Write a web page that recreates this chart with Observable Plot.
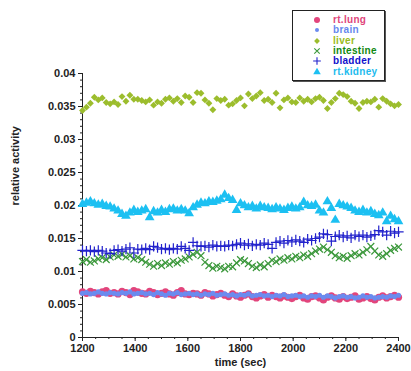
<!DOCTYPE html>
<html>
<head>
<meta charset="utf-8">
<script src="https://cdn.jsdelivr.net/npm/d3@7"></script>
<script src="https://cdn.jsdelivr.net/npm/@observablehq/plot@0.6"></script>
<style>
  html, body { margin: 0; padding: 0; background: #fff; }
  #wrap { position: relative; width: 411px; height: 371px; font-family: "Liberation Sans", Arial, sans-serif; }
  #legend { position: absolute; left: 292px; top: 10px; width: 93px; height: 71px; background: #fff;
            border: 1px solid #222; box-shadow: 1px 1px 0 #555; box-sizing: border-box; }
  .row { position: absolute; left: 0; height: 10px; font-size: 10px; font-weight: bold; line-height: 10px; }
  .row svg { position: absolute; left: 18px; top: -1px; }
  .row span { position: absolute; left: 40px; top: 0; white-space: nowrap; letter-spacing: 0.3px; }
</style>
</head>
<body>
<div id="wrap"><div id="chart"></div><div id="legend"></div></div>
<script>
// sampling grid (sec)
const times = d3.range(1200, 2401, 15);
const xTicks = [1200, 1400, 1600, 1800, 2000, 2200, 2400];
const yTicks = [0, 0.005, 0.01, 0.015, 0.02, 0.025, 0.03, 0.035, 0.04];

const seriesNames = ["rt.lung", "brain", "liver", "intestine", "bladder", "rt.kidney"];

const lung = [
0.0069,0.0067,0.0070,0.0068,0.0066,0.0069,0.0071,0.0067,0.0068,0.0066,
0.0070,0.0068,0.0065,0.0071,0.0069,0.0067,0.0066,0.0070,0.0068,0.0065,
0.0067,0.0069,0.0066,0.0064,0.0068,0.0071,0.0066,0.0065,0.0067,0.0066,
0.0064,0.0068,0.0066,0.0063,0.0065,0.0067,0.0064,0.0062,0.0066,0.0063,
0.0061,0.0064,0.0066,0.0062,0.0060,0.0063,0.0065,0.0061,0.0064,0.0062,
0.0060,0.0063,0.0061,0.0059,0.0062,0.0064,0.0060,0.0058,0.0062,0.0063,
0.0060,0.0057,0.0061,0.0063,0.0060,0.0058,0.0062,0.0059,0.0061,0.0063,
0.0058,0.0060,0.0062,0.0059,0.0057,0.0061,0.0063,0.0060,0.0062,0.0064,0.0061];

const brain = [
0.0067,0.0068,0.0066,0.0067,0.0069,0.0067,0.0066,0.0068,0.0067,0.0066,
0.0068,0.0067,0.0069,0.0066,0.0067,0.0068,0.0066,0.0067,0.0065,0.0068,
0.0066,0.0064,0.0067,0.0066,0.0068,0.0065,0.0066,0.0067,0.0065,0.0066,
0.0064,0.0066,0.0065,0.0067,0.0064,0.0065,0.0066,0.0064,0.0065,0.0063,
0.0065,0.0064,0.0066,0.0063,0.0064,0.0065,0.0063,0.0064,0.0062,0.0064,
0.0063,0.0065,0.0062,0.0063,0.0064,0.0062,0.0063,0.0061,0.0063,0.0062,
0.0064,0.0061,0.0063,0.0062,0.0060,0.0062,0.0063,0.0061,0.0062,0.0060,
0.0061,0.0063,0.0061,0.0062,0.0060,0.0061,0.0062,0.0061,0.0063,0.0062,0.0064];

const liver = [
0.0344,0.0349,0.0355,0.0364,0.0360,0.0363,0.0356,0.0354,0.0357,0.0353,
0.0365,0.0358,0.0367,0.0361,0.0361,0.0359,0.0357,0.0360,0.0352,0.0357,
0.0355,0.0361,0.0363,0.0358,0.0362,0.0356,0.0366,0.0364,0.0356,0.0371,
0.0370,0.0360,0.0355,0.0345,0.0362,0.0359,0.0361,0.0352,0.0354,0.0359,
0.0363,0.0351,0.0369,0.0362,0.0366,0.0371,0.0359,0.0361,0.0356,0.0370,
0.0348,0.0360,0.0363,0.0357,0.0356,0.0363,0.0358,0.0361,0.0357,0.0362,
0.0364,0.0359,0.0347,0.0356,0.0362,0.0370,0.0368,0.0365,0.0358,0.0355,
0.0347,0.0356,0.0358,0.0357,0.0361,0.0349,0.0362,0.0358,0.0354,0.0351,0.0353];

const intestine = [
0.0115,0.0118,0.0114,0.0116,0.0119,0.0121,0.0118,0.0122,0.0125,0.0123,
0.0126,0.0122,0.0124,0.0119,0.0121,0.0118,0.0114,0.0111,0.0108,0.0112,
0.0109,0.0113,0.0111,0.0115,0.0113,0.0117,0.0119,0.0122,0.0126,0.0129,
0.0124,0.0114,0.0109,0.0105,0.0108,0.0106,0.0104,0.0108,0.0107,0.0113,
0.0118,0.0116,0.0112,0.0108,0.0106,0.0110,0.0107,0.0112,0.0117,0.0115,
0.0119,0.0117,0.0121,0.0119,0.0123,0.0121,0.0125,0.0123,0.0127,0.0131,
0.0134,0.0137,0.0133,0.0129,0.0124,0.0121,0.0123,0.0120,0.0124,0.0127,
0.0125,0.0129,0.0133,0.0138,0.0131,0.0125,0.0123,0.0127,0.0132,0.0135,0.0137];

const bladder = [
0.0132,0.0131,0.0132,0.0130,0.0132,0.0131,0.0128,0.0127,0.0132,0.0133,
0.0131,0.0134,0.0136,0.0128,0.0134,0.0133,0.0135,0.0133,0.0138,0.0136,
0.0134,0.0135,0.0133,0.0135,0.0134,0.0138,0.0135,0.0132,0.0144,0.0139,
0.0138,0.0139,0.0137,0.0140,0.0138,0.0139,0.0138,0.0140,0.0139,0.0141,
0.0143,0.0140,0.0142,0.0139,0.0141,0.0140,0.0143,0.0141,0.0135,0.0144,
0.0146,0.0143,0.0147,0.0145,0.0148,0.0146,0.0144,0.0149,0.0147,0.0150,
0.0152,0.0157,0.0156,0.0146,0.0153,0.0155,0.0152,0.0154,0.0151,0.0155,
0.0153,0.0155,0.0152,0.0154,0.0156,0.0162,0.0160,0.0155,0.0161,0.0158,0.0160];

const kidney = [
0.0202,0.0204,0.0206,0.0203,0.0201,0.0202,0.0199,0.0198,0.0195,0.0192,
0.0187,0.0184,0.0189,0.0193,0.0190,0.0192,0.0194,0.0182,0.0191,0.0189,
0.0193,0.0190,0.0194,0.0195,0.0192,0.0194,0.0192,0.0188,0.0197,0.0201,
0.0204,0.0203,0.0206,0.0205,0.0207,0.0209,0.0216,0.0211,0.0208,0.0193,
0.0203,0.0200,0.0197,0.0199,0.0195,0.0199,0.0197,0.0196,0.0194,0.0197,
0.0195,0.0193,0.0196,0.0198,0.0195,0.0197,0.0205,0.0200,0.0199,0.0201,
0.0192,0.0189,0.0206,0.0196,0.0178,0.0202,0.0200,0.0198,0.0196,0.0192,
0.0190,0.0193,0.0189,0.0191,0.0187,0.0185,0.0189,0.0176,0.0184,0.0179,0.0176];

const styles = {
  "rt.lung":   {symbol: "circle",   r: 3.6, lr: 3.0, fill: "#e2457c", text: "#e0457b"},
  "brain":     {symbol: "circle",   r: 2.6, lr: 2.0, fill: "#6b8bef", text: "#6688ee"},
  "liver":     {symbol: "diamond2", r: 3.1, lr: 2.6, fill: "#9cbd2d", text: "#99bb22"},
  "intestine": {symbol: "times",    r: 3.2, lr: 2.6, stroke: "#3b983b", text: "#118811"},
  "bladder":   {symbol: "plus",     r: 3.4, lr: 2.6, stroke: "#2222cc", text: "#1111cc"},
  "rt.kidney": {symbol: "triangle", r: 3.6, lr: 2.8, fill: "#1cc0f2", text: "#22bbee"}
};
const valuesByName = {"rt.lung": lung, "brain": brain, "liver": liver, "intestine": intestine, "bladder": bladder, "rt.kidney": kidney};

const dotMarks = seriesNames.map(name => {
  const s = styles[name];
  const rows = valuesByName[name].map((v, i) => ({t: times[i], v}));
  const opts = {x: "t", y: "v", symbol: s.symbol, r: s.r};
  if (s.fill) { opts.fill = s.fill; opts.stroke = "none"; }
  else { opts.stroke = s.stroke; opts.strokeWidth = 1.2; opts.fill = "none"; }
  return Plot.dot(rows, opts);
});

const yMinor = d3.range(0, 0.0401, 0.001);
const xMinor = d3.range(1200, 2401, 50);

const chart = Plot.plot({
  width: 411, height: 371,
  marginLeft: 82, marginRight: 13, marginTop: 73, marginBottom: 34,
  style: {fontFamily: "'Liberation Sans', Arial, sans-serif", fontSize: "11px", fontWeight: "bold", color: "#222", background: "#fff"},
  x: {domain: [1200, 2400]},
  y: {domain: [0, 0.04]},
  marks: [
    Plot.axisY({ticks: yMinor, tickSize: 2, tickFormat: () => "", label: null, stroke: "#222"}),
    Plot.axisY({ticks: yTicks, tickSize: 4, tickPadding: 3, tickFormat: d => String(d), label: null, stroke: "#222"}),
    Plot.axisX({ticks: xMinor, tickSize: 2, tickFormat: () => "", label: null, stroke: "#222"}),
    Plot.axisX({ticks: xTicks, tickSize: 4, tickPadding: 3, tickFormat: d => String(d), label: null, stroke: "#222"}),
    Plot.ruleX([1200], {stroke: "#222"}),
    Plot.ruleY([0], {stroke: "#222"}),
    ...dotMarks,
    Plot.text(["time (sec)"], {frameAnchor: "bottom", dy: 25, lineAnchor: "middle", fill: "#222"}),
    Plot.text(["relative activity"], {frameAnchor: "left", dx: -67, rotate: -90, lineAnchor: "middle", fill: "#222"})
  ]
});
document.getElementById("chart").appendChild(chart);

// legend
const legend = document.getElementById("legend");
seriesNames.forEach((name, i) => {
  const s = styles[name];
  const row = document.createElement("div");
  row.className = "row";
  row.style.top = (4 + i * 10.3) + "px";
  const sym = {circle: d3.symbolCircle, diamond2: d3.symbolDiamond2, times: d3.symbolTimes, plus: d3.symbolPlus, triangle: d3.symbolTriangle}[s.symbol];
  const svg = d3.create("svg").attr("width", 12).attr("height", 12);
  svg.append("path")
    .attr("transform", "translate(6,6)")
    .attr("d", d3.symbol(sym, s.lr * s.lr * Math.PI)())
    .attr("fill", s.fill || "none")
    .attr("stroke", s.stroke || "none")
    .attr("stroke-width", s.stroke ? 1.1 : 0);
  row.appendChild(svg.node());
  const span = document.createElement("span");
  span.textContent = name;
  span.style.color = s.text;
  row.appendChild(span);
  legend.appendChild(row);
});
</script>
</body>
</html>
